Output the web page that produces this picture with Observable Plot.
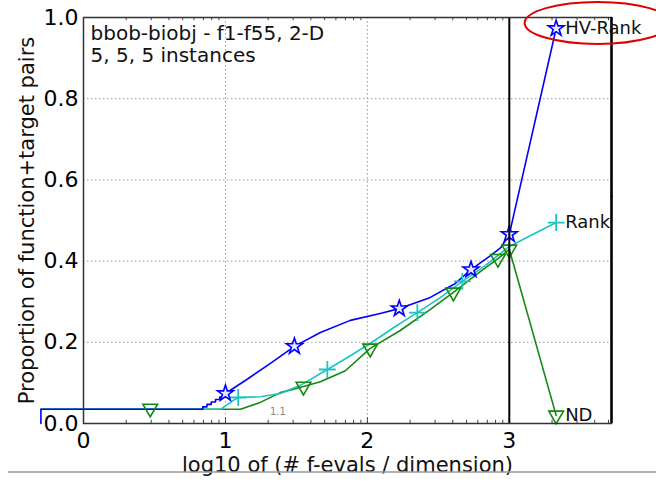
<!DOCTYPE html>
<html><head><meta charset="utf-8">
<script src="https://cdn.jsdelivr.net/npm/d3@7"></script>
<script src="https://cdn.jsdelivr.net/npm/@observablehq/plot@0.6"></script>
<style>body{margin:0;background:#fff} svg{display:block}</style>
</head><body><div id="chart"></div>
<script>
// ---- data ----
const titleLines = ["bbob-biobj - f1-f55, 2-D", "5, 5, 5 instances"];
const xTicks = [0, 1, 2, 3];
const yTicks = [0, 0.2, 0.4, 0.6, 0.8, 1.0];
const xMax = 3.72;

const hvName = "HV-Rank";
const hvX = [-0.30,-0.30,0.84,0.84,0.87,0.87,0.90,0.90,0.93,0.93,0.96,0.96,0.98,0.98,1.00,1.14,1.317,1.486,1.669,1.88,2.09,2.225,2.44,2.62,2.73,2.87,2.94,3.00,3.33];
const hvY = [0.0,0.035,0.035,0.041,0.041,0.047,0.047,0.053,0.053,0.059,0.059,0.065,0.065,0.070,0.074,0.106,0.148,0.190,0.224,0.254,0.271,0.283,0.310,0.345,0.379,0.414,0.433,0.466,0.973];
const hvMarkX = [1.00,1.486,2.225,2.73,3.00,3.33];
const hvMarkY = [0.074,0.190,0.283,0.379,0.466,0.973];

const rkName = "Rank";
const rkX = [-0.30,0.965,1.056,1.09,1.246,1.387,1.528,1.718,1.88,2.02,2.197,2.352,2.514,2.669,2.83,3.00,3.33];
const rkY = [0.035,0.035,0.057,0.064,0.066,0.074,0.094,0.133,0.167,0.197,0.239,0.273,0.310,0.350,0.389,0.436,0.495];
const rkMarkX = [1.09,1.718,2.352,2.669,3.33];
const rkMarkY = [0.064,0.133,0.273,0.350,0.495];

const ndName = "ND";
const ndX = [-0.30,1.106,1.246,1.387,1.55,1.669,1.845,2.02,2.232,2.444,2.606,2.76,2.92,3.00,3.33];
const ndY = [0.035,0.035,0.052,0.076,0.091,0.103,0.130,0.185,0.229,0.281,0.323,0.365,0.406,0.429,0.020];
const ndMarkX = [0.47,1.55,2.02,2.606,2.92,3.00,3.33];
const ndMarkY = [0.037,0.091,0.185,0.323,0.406,0.429,0.020];

const edgeX = [3.72, 3.72];
const edgeY = [0.559, 0.4975];
const smallNote = "1.1";

const cBlue = "#0000ff", cCyan = "#1cc4c4", cGreen = "#108a10";
const FONT = "DejaVu Sans, sans-serif";

const pts = (xs, ys) => xs.map((x, i) => ({x, y: ys[i]}));
const hv = pts(hvX, hvY), rk = pts(rkX, rkY), nd = pts(ndX, ndY);
const hvM = pts(hvMarkX, hvMarkY), rkM = pts(rkMarkX, rkMarkY), ndM = pts(ndMarkX, ndMarkY);
const ends = [
  {x: hvX.at(-1), y: hvY.at(-1), t: hvName},
  {x: rkX.at(-1), y: rkY.at(-1), t: rkName},
  {x: ndX.at(-1), y: ndY.at(-1), t: ndName}
];
const minor = [];
for (let d = 0; d < 4; d++) for (let k = 2; k <= 9; k++) { const v = d + Math.log10(k); if (v < xMax) minor.push(v); }

const chart = Plot.plot({
  width: 656, height: 482,
  marginLeft: 83, marginRight: 45, marginTop: 17, marginBottom: 59,
  style: {fontFamily: FONT, background: "#fff"},
  x: {domain: [0, xMax]},
  y: {domain: [0, 1]},
  marks: [
    Plot.ruleY(yTicks.filter(d => d > 0), {stroke: "#9a9a9a", strokeDasharray: "1.5,2.5", strokeWidth: 1}),
    Plot.ruleX([1, 2], {stroke: "#9a9a9a", strokeDasharray: "1.5,2.5", strokeWidth: 1}),
    Plot.ruleX(minor, {y1: 0, y2: 0.008, stroke: "#444"}),
    Plot.ruleX(minor, {y1: 0.992, y2: 1, stroke: "#444"}),
    Plot.ruleX(xTicks, {y1: 0, y2: 0.014, stroke: "#444"}),
    Plot.axisX({ticks: xTicks, tickSize: 0, tickPadding: 9, fontSize: 22, label: null, tickFormat: d => String(d)}),
    Plot.axisY({ticks: yTicks, tickSize: 0, tickPadding: 5, fontSize: 22, label: null, tickFormat: d => d.toFixed(1)}),
    Plot.text([smallNote], {text: d => d, x: 1.37, y: 0.028, fontSize: 10, fill: "#888"}),
    Plot.line(nd, {x: "x", y: "y", stroke: cGreen, strokeWidth: 1.6}),
    Plot.line(rk, {x: "x", y: "y", stroke: cCyan, strokeWidth: 1.6}),
    Plot.line(hv, {x: "x", y: "y", stroke: cBlue, strokeWidth: 1.6}),
    Plot.dot(ndM, {x: "x", y: "y", symbol: "triangle2", rotate: 180, r: 7, stroke: cGreen, fill: "none", strokeWidth: 1.6}),
    Plot.dot(rkM, {x: "x", y: "y", symbol: "plus", r: 5.5, stroke: cCyan, strokeWidth: 1.8}),
    Plot.dot(hvM, {x: "x", y: "y", symbol: "star", r: 5, stroke: cBlue, fill: "#e8e8ff", strokeWidth: 1.6}),
    Plot.dot(pts(edgeX, edgeY), {x: "x", y: "y", r: 1.3, fill: (d, i) => i === 0 ? cBlue : cCyan}),
    Plot.ruleX([3], {stroke: "#000", strokeWidth: 2}),
    Plot.frame({stroke: "#333", strokeWidth: 1.5}),
    Plot.ruleX([xMax], {stroke: "#000", strokeWidth: 2.5}),
    Plot.text(ends, {x: "x", y: "y", text: "t", dx: 9, textAnchor: "start", fontSize: 18, fill: "#111"}),
    Plot.text([titleLines.join("\n")], {text: d => d, frameAnchor: "top-left", dx: 7, dy: 7, lineAnchor: "top", lineHeight: 1.1, fontSize: 20, fill: "#111"}),
    Plot.text(["Proportion of function+target pairs"], {text: d => d, frameAnchor: "left", textAnchor: "middle", rotate: -90, dx: -56, fontSize: 21, fill: "#111"}),
    Plot.text(["log10 of (# f-evals / dimension)"], {text: d => d, frameAnchor: "bottom", textAnchor: "middle", dy: 48, fontSize: 21, fill: "#111"})
  ]
});

// annotation ellipse around the HV-Rank label, placed through the scales
const sx = chart.scale("x"), sy = chart.scale("y");
const svg = d3.select(chart);
svg.append("ellipse")
  .attr("cx", sx.apply(ends[0].x) + 42).attr("cy", sy.apply(ends[0].y) - 5)
  .attr("rx", 73).attr("ry", 21)
  .attr("fill", "none").attr("stroke", "#e00000").attr("stroke-width", 2);
svg.append("line")
  .attr("x1", 8).attr("x2", 656).attr("y1", 472).attr("y2", 472)
  .attr("stroke", "#999").attr("stroke-width", 1.5);
document.getElementById("chart").append(chart);
</script>
</body></html>
